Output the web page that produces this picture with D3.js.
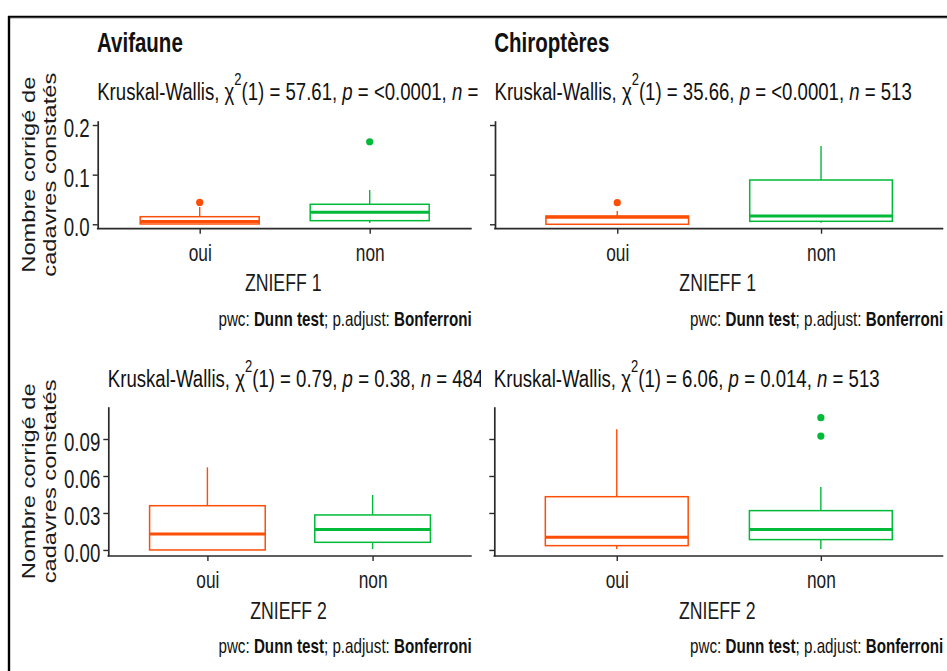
<!DOCTYPE html>
<html>
<head>
<meta charset="utf-8">
<script src="https://cdn.jsdelivr.net/npm/d3@7"></script>
<style>
body { margin: 0; background: #fff; }
</style>
</head>
<body>
<div id="chart"></div>
<script>
// values
var species = ["Avifaune", "Chiroptères"];
var groups = ["oui", "non"];
var zoneTitles = ["ZNIEFF 1", "ZNIEFF 2"];
var yLabel = ["Nombre corrigé de", "cadavres constatés"];

// Kruskal-Wallis results: Avi Z1, Chiro Z1, Avi Z2, Chiro Z2
var kwChi2 = ["57.61", "35.66", "0.79", "6.06"];
var kwP = ["<0.0001", "<0.0001", "0.38", "0.014"];
var kwN = [484, 513, 484, 513];

// box stats [min, q1, median, q3, max], one row for oui and one for non
var aviZ1 = [[0, 0.0006, 0.0056, 0.0153, 0.035], [0.0026, 0.0073, 0.0242, 0.0403, 0.0691]];
var chiZ1 = [[0, 0, 0.0143, 0.0167, 0.0268], [0.0032, 0.006, 0.0167, 0.0892, 0.1577]];
var aviZ2 = [[0, 0, 0.013, 0.0359, 0.067], [0.0008, 0.0062, 0.0165, 0.0284, 0.0446]];
var chiZ2 = [[0.0008, 0.0035, 0.0103, 0.0432, 0.0979], [0.0008, 0.0084, 0.0165, 0.0319, 0.0511]];

// outliers
var aviZ1Out = [[0.044], [0.1663]];
var chiZ1Out = [[0.0435], []];
var aviZ2Out = [[], []];
var chiZ2Out = [[], [0.0924, 0.1073]];

var ticksZ1 = [0, 0.1, 0.2];
var ticksZ2 = [0, 0.03, 0.06, 0.09];

var colors = ["#FC4E07", "#00BA38"];

var w = 947;
var h = 671;
var K = 1.33; // the picture is stretched vertically
var font = "'Liberation Sans', Arial, sans-serif";
var axisColor = "#2a2a2a";

var svg = d3.select("#chart").append("svg")
  .attr("width", w)
  .attr("height", h)
  .style("font-family", font);

// frame round the figure
svg.append("line").attr("x1", 8).attr("x2", w).attr("y1", 18.2).attr("y2", 18.2)
  .attr("stroke", "#b0b0b0").attr("stroke-width", 1);
svg.append("line").attr("x1", 8).attr("x2", w).attr("y1", 16.8).attr("y2", 16.8)
  .attr("stroke", "#000").attr("stroke-width", 2);
svg.append("line").attr("x1", 9).attr("x2", 9).attr("y1", 16).attr("y2", h)
  .attr("stroke", "#000").attr("stroke-width", 2.4);

// the left column's subtitles are cut at the cell edge
svg.append("clipPath").attr("id", "leftClip")
  .append("rect").attr("x", 0).attr("y", 0).attr("width", 481).attr("height", h);

var panels = [
  { stats: aviZ1, out: aviZ1Out, ticks: ticksZ1, fmt: ".1f", k: 0, zone: 0,
    left: 97.7, right: 471.7, top: 120.7, bottom: 228.7, dom: [-0.0089, 0.2087], first: true, topRow: true },
  { stats: chiZ1, out: chiZ1Out, ticks: ticksZ1, fmt: ".1f", k: 1, zone: 0,
    left: 495, right: 943.3, top: 120.7, bottom: 228.7, dom: [-0.0089, 0.2087], first: false, topRow: true },
  { stats: aviZ2, out: aviZ2Out, ticks: ticksZ2, fmt: ".2f", k: 2, zone: 1,
    left: 108.3, right: 471.7, top: 406.7, bottom: 556, dom: [-0.0049, 0.1162], first: true, topRow: false },
  { stats: chiZ2, out: chiZ2Out, ticks: ticksZ2, fmt: ".2f", k: 3, zone: 1,
    left: 494.3, right: 943.3, top: 406.7, bottom: 556, dom: [-0.0049, 0.1162], first: false, topRow: false }
];

function stretch(x, y) {
  return "translate(" + x + "," + y + ") scale(1," + K + ")";
}

panels.forEach(function(p) {
  var g = svg.append("g");

  var xScale = d3.scalePoint()
    .domain(groups)
    .range([p.left, p.right])
    .padding(0.6);

  var yScale = d3.scaleLinear()
    .domain(p.dom)
    .range([p.bottom, p.top]);

  var half = xScale.step() * 0.35;

  // title above the top row
  if (p.topRow) {
    g.append("text")
      .attr("transform", stretch(p.left - 0.7, 52))
      .attr("font-size", 20.5)
      .attr("font-weight", "bold")
      .attr("fill", "#111")
      .text(species[p.k]);
  }

  // Kruskal-Wallis subtitle
  var subG = g.append("g");
  if (p.first) subG.attr("clip-path", "url(#leftClip)");
  var sub = subG.append("text")
    .attr("transform", stretch(p.left - 0.5, p.topRow ? 100 : 386.7))
    .attr("font-size", 18.6)
    .attr("fill", "#111");
  sub.append("tspan").text("Kruskal-Wallis, χ");
  sub.append("tspan").attr("font-size", 13).attr("dy", -11).text("2");
  sub.append("tspan").attr("dy", 11).text("(1) = " + kwChi2[p.k] + ", ");
  sub.append("tspan").attr("font-style", "italic").text("p");
  sub.append("tspan").text(" = " + kwP[p.k] + ", ");
  sub.append("tspan").attr("font-style", "italic").text("n");
  sub.append("tspan").text(" = " + kwN[p.k]);

  // y axis
  var yAxis = d3.axisLeft(yScale)
    .tickValues(p.ticks)
    .tickSize(5)
    .tickSizeOuter(0)
    .tickFormat(d3.format(p.fmt));
  var ya = g.append("g")
    .attr("transform", "translate(" + p.left + ",0)")
    .call(yAxis);
  ya.select(".domain").attr("stroke", axisColor).attr("stroke-width", 1.7);
  ya.selectAll(".tick line").attr("stroke", axisColor).attr("stroke-width", 1.4);
  ya.selectAll(".tick text")
    .attr("font-family", font)
    .attr("font-size", 18.7)
    .attr("fill", "#1a1a1a")
    .attr("x", -8)
    .attr("dy", 8.6)
    .attr("transform", "scale(1," + K + ")")
    .style("display", p.first ? null : "none");

  // x axis
  var xAxis = d3.axisBottom(xScale)
    .tickSize(5)
    .tickSizeOuter(0);
  var xa = g.append("g")
    .attr("transform", "translate(0," + p.bottom + ")")
    .call(xAxis);
  xa.select(".domain").attr("stroke", axisColor).attr("stroke-width", 1.7)
    .attr("d", "M" + (p.left - 0.8) + ",0H" + p.right);
  xa.selectAll(".tick line").attr("stroke", axisColor).attr("stroke-width", 1.4);
  xa.selectAll(".tick text")
    .attr("font-family", font)
    .attr("font-size", 17.3)
    .attr("fill", "#1a1a1a")
    .attr("y", 0)
    .attr("dy", 0)
    .attr("transform", "translate(0,32) scale(1," + K + ")");

  // x axis title
  g.append("text")
    .attr("transform", stretch((p.left + p.right) / 2 - 1.5, p.bottom + 62.5))
    .attr("text-anchor", "middle")
    .attr("font-size", 17.7)
    .attr("fill", "#1a1a1a")
    .text(zoneTitles[p.zone]);

  // caption
  var cap = g.append("text")
    .attr("transform", stretch(p.right, p.bottom + 96.8))
    .attr("text-anchor", "end")
    .attr("font-size", 15.2)
    .attr("fill", "#111");
  cap.append("tspan").text("pwc: ");
  cap.append("tspan").attr("font-weight", "bold").text("Dunn test");
  cap.append("tspan").text("; p.adjust: ");
  cap.append("tspan").attr("font-weight", "bold").text("Bonferroni");

  // y axis label on the first column
  if (p.first) {
    var cy = (p.top + p.bottom) / 2;
    yLabel.forEach(function(line, i) {
      g.append("text")
        .attr("transform", stretch(35 + i * 21, cy) + " rotate(-90)")
        .attr("text-anchor", "middle")
        .attr("font-size", 17.8)
        .attr("fill", "#1a1a1a")
        .text(line);
    });
  }

  // boxes
  var boxes = g.selectAll(".box")
    .data(p.stats)
    .enter()
    .append("g")
    .attr("class", "box");

  boxes.append("line")
    .attr("x1", function(d, i) { return xScale(groups[i]); })
    .attr("x2", function(d, i) { return xScale(groups[i]); })
    .attr("y1", function(d) { return yScale(d[0]); })
    .attr("y2", function(d) { return yScale(d[1]); })
    .attr("stroke", function(d, i) { return colors[i]; })
    .attr("stroke-width", 1.4);

  boxes.append("line")
    .attr("x1", function(d, i) { return xScale(groups[i]); })
    .attr("x2", function(d, i) { return xScale(groups[i]); })
    .attr("y1", function(d) { return yScale(d[3]); })
    .attr("y2", function(d) { return yScale(d[4]); })
    .attr("stroke", function(d, i) { return colors[i]; })
    .attr("stroke-width", 1.4);

  boxes.append("rect")
    .attr("x", function(d, i) { return xScale(groups[i]) - half; })
    .attr("y", function(d) { return yScale(d[3]); })
    .attr("width", half * 2)
    .attr("height", function(d) { return yScale(d[1]) - yScale(d[3]); })
    .attr("fill", "#fff")
    .attr("stroke", function(d, i) { return colors[i]; })
    .attr("stroke-width", 1.5);

  boxes.append("line")
    .attr("x1", function(d, i) { return xScale(groups[i]) - half; })
    .attr("x2", function(d, i) { return xScale(groups[i]) + half; })
    .attr("y1", function(d) { return yScale(d[2]); })
    .attr("y2", function(d) { return yScale(d[2]); })
    .attr("stroke", function(d, i) { return colors[i]; })
    .attr("stroke-width", 3);

  // outliers
  p.out.forEach(function(vals, i) {
    g.selectAll(".out" + i)
      .data(vals)
      .enter()
      .append("circle")
      .attr("cx", xScale(groups[i]))
      .attr("cy", function(d) { return yScale(d); })
      .attr("r", 3.6)
      .attr("fill", colors[i]);
  });
});
</script>
</body>
</html>
